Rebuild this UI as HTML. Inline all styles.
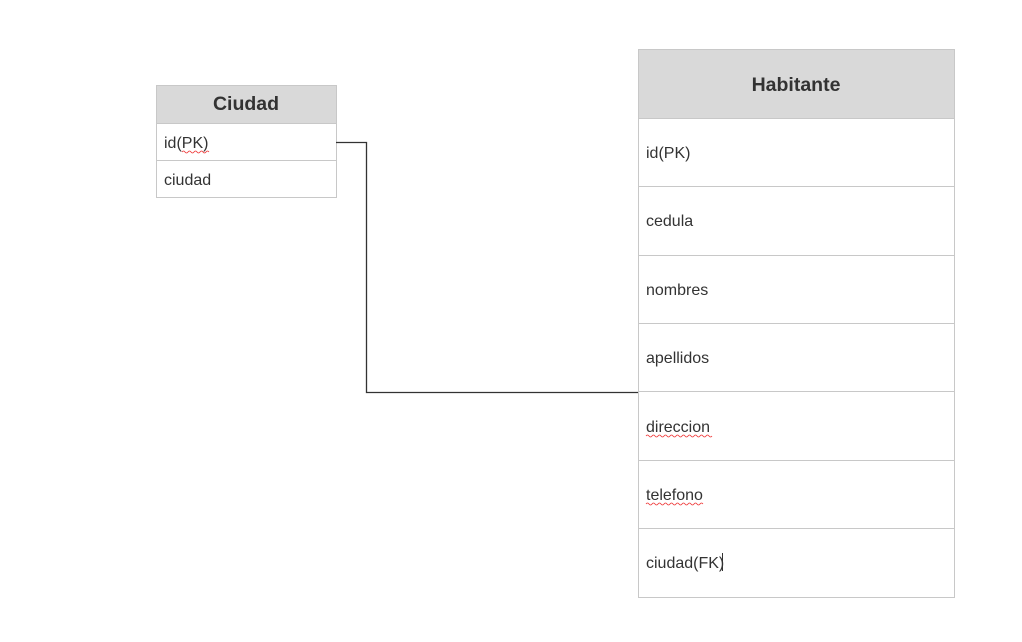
<!DOCTYPE html>
<html><head><meta charset="utf-8"><style>
html,body{margin:0;padding:0;background:#fff;width:1022px;height:642px;overflow:hidden}
svg{display:block;font-family:"Liberation Sans",Arial,sans-serif}
</style></head><body>
<svg width="1022" height="642" viewBox="0 0 1022 642">
<!-- Ciudad -->
<rect x="156.5" y="85.5" width="180" height="112" fill="#fff" stroke="#c8c8c8"/>
<rect x="156.5" y="85.5" width="180" height="38" fill="#d9d9d9" stroke="#c8c8c8"/>
<line x1="156" y1="160.5" x2="337" y2="160.5" stroke="#c8c8c8"/>
<text x="246" y="110" text-anchor="middle" font-size="19.5" font-weight="bold" fill="#333">Ciudad</text>
<text x="164" y="148" font-size="16" fill="#333">id(PK)</text>
<path d="M182 152 q1.5 -2 3 0 t3 0 t3 0 t3 0 t3 0 t3 0 t3 0 t3 0 t3 0" fill="none" stroke="#e33" stroke-width="0.8"/>
<text x="164" y="185" font-size="16" fill="#333">ciudad</text>
<!-- Habitante -->
<rect x="638.5" y="49.5" width="316" height="548" fill="#fff" stroke="#c8c8c8"/>
<rect x="638.5" y="49.5" width="316" height="69" fill="#d9d9d9" stroke="#c8c8c8"/>
<g stroke="#c8c8c8">
<line x1="638" y1="186.5" x2="955" y2="186.5"/>
<line x1="638" y1="255.5" x2="955" y2="255.5"/>
<line x1="638" y1="323.5" x2="955" y2="323.5"/>
<line x1="638" y1="391.5" x2="955" y2="391.5"/>
<line x1="638" y1="460.5" x2="955" y2="460.5"/>
<line x1="638" y1="528.5" x2="955" y2="528.5"/>
</g>
<text x="796" y="91" text-anchor="middle" font-size="19.5" font-weight="bold" fill="#333">Habitante</text>
<g font-size="16" fill="#333">
<text x="646" y="158">id(PK)</text>
<text x="646" y="226">cedula</text>
<text x="646" y="295">nombres</text>
<text x="646" y="363">apellidos</text>
<text x="646" y="432">direccion</text>
<text x="646" y="500">telefono</text>
<text x="646" y="568">ciudad(FK)</text>
</g>
<g fill="none" stroke="#e33" stroke-width="0.8">
<path d="M646 436 q1.5 -2 3 0 t3 0 t3 0 t3 0 t3 0 t3 0 t3 0 t3 0 t3 0 t3 0 t3 0 t3 0 t3 0 t3 0 t3 0 t3 0 t3 0 t3 0 t3 0 t3 0 t3 0 t3 0"/>
<path d="M646 504 q1.5 -2 3 0 t3 0 t3 0 t3 0 t3 0 t3 0 t3 0 t3 0 t3 0 t3 0 t3 0 t3 0 t3 0 t3 0 t3 0 t3 0 t3 0 t3 0 t3 0"/>
</g>
<line x1="722.5" y1="553" x2="722.5" y2="571" stroke="#333"/>
<!-- connector -->
<path d="M336 142.5 H366.5 V392.5 H638" fill="none" stroke="#333" stroke-width="1.3"/>
</svg>
</body></html>
